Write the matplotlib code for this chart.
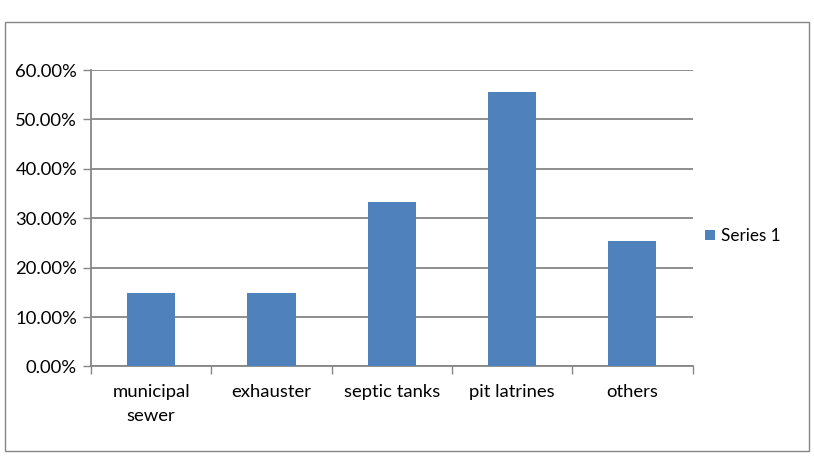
import matplotlib
matplotlib.use("Agg")
import matplotlib.pyplot as plt
from matplotlib.patches import Rectangle
import numpy as np

# data
categories = ["municipal\nsewer", "exhauster", "septic tanks", "pit latrines", "others"]
values = [0.148, 0.148, 0.333, 0.555, 0.253]
series_name = "Series 1"
y_ticks = [0.0, 0.1, 0.2, 0.3, 0.4, 0.5, 0.6]

plt.rcParams['font.family'] = ['Lato', 'DejaVu Sans']
FS = 13.3

fig = plt.figure(figsize=(8.14, 4.58), dpi=100)
ax = fig.add_axes([0.1118, 0.2, 0.739, 0.647])

x = np.arange(len(categories))
ax.bar(x, values, width=0.4, color="#4F81BD", label=series_name, zorder=3)

ax.set_xlim(-0.5, len(categories) - 0.5)
ax.set_ylim(0, 0.6)
ax.set_yticks(y_ticks)
ax.set_yticklabels([f"{v*100:.2f}%" for v in y_ticks])
ax.yaxis.grid(True, color="#868686", linewidth=1.3, zorder=0)

ax.set_xticks(x)
ax.set_xticklabels(categories, linespacing=1.6)
ax.set_xticks(np.arange(len(categories) + 1) - 0.5, minor=True)
ax.tick_params(axis="x", which="major", length=0, pad=13, labelsize=FS)
ax.tick_params(axis="x", which="minor", length=6, color="#868686", width=1)
ax.tick_params(axis="y", length=6, color="#868686", width=1, labelsize=FS, pad=4)

for s in ["top", "right"]:
    ax.spines[s].set_visible(False)
for s in ["left", "bottom"]:
    ax.spines[s].set_color("#868686")
    ax.spines[s].set_linewidth(1.3)

ax.legend(loc="center left", bbox_to_anchor=(0.995, 0.44), frameon=False,
          fontsize=12.3, handlelength=0.6, handleheight=0.6, handletextpad=0.35)

# outer chart border
fig.patches.append(Rectangle((0.006, 0.015), 0.988, 0.937, transform=fig.transFigure,
                             fill=False, edgecolor="#868686", linewidth=1))

fig.savefig("out.png", dpi=100)
